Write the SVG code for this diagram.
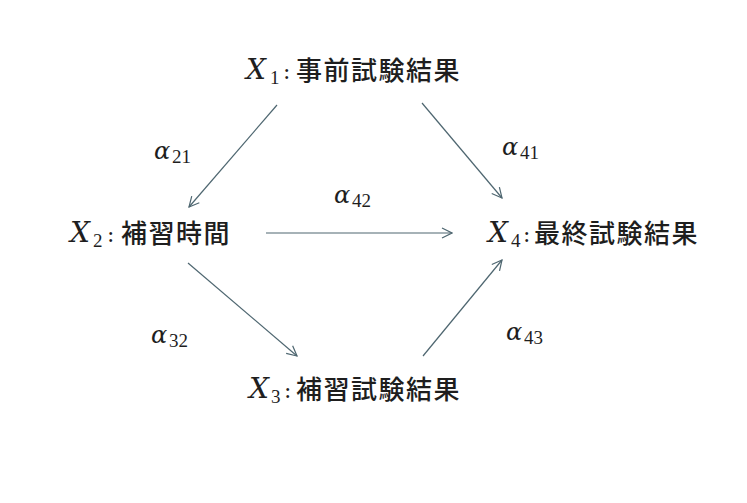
<svg xmlns="http://www.w3.org/2000/svg" width="747" height="503" viewBox="0 0 747 503">
<defs>
<style>
.math{font-family:"DejaVu Serif",serif;font-style:italic;fill:#1e1e1e}
.sub{font-family:"Liberation Serif",serif;font-style:normal;fill:#1e1e1e}
.col{font-family:"DejaVu Serif",serif;font-style:normal;fill:#1e1e1e}
.cjk{font-family:"Noto Sans CJK JP",sans-serif;font-weight:500;fill:#1e1e1e;letter-spacing:1.5px}
.edge{stroke:#4e6670;stroke-width:1.2;fill:none;marker-end:url(#ah)}
</style>
<marker id="ah" viewBox="0 0 12 12" refX="11" refY="6" markerWidth="12" markerHeight="12" markerUnits="userSpaceOnUse" orient="auto">
<path d="M1,1 L11,6 L1,11" fill="none" stroke="#4e6670" stroke-width="1.2"/>
</marker>
</defs>
<rect width="747" height="503" fill="#ffffff"/>
<g id="connectors">
<line class="edge" x1="277" y1="105" x2="189" y2="207"/>
<line class="edge" x1="422" y1="103" x2="502" y2="198"/>
<line class="edge" x1="266" y1="233" x2="452" y2="233"/>
<line class="edge" x1="188" y1="263" x2="297" y2="356"/>
<line class="edge" x1="423" y1="356" x2="502" y2="260"/>
</g>
<g id="X1">
<text x="246" y="79" class="math" font-size="28">X</text>
<text x="270" y="84" class="sub" font-size="19">1</text>
<text x="283" y="79" class="col" font-size="22">:</text>
<text x="296" y="80" class="cjk" font-size="26">事前試験結果</text>
</g>
<g id="X2">
<text x="70" y="242" class="math" font-size="28">X</text>
<text x="93" y="247" class="sub" font-size="19">2</text>
<text x="107" y="242" class="col" font-size="22">:</text>
<text x="121" y="243" class="cjk" font-size="26">補習時間</text>
</g>
<g id="X4">
<text x="488" y="242" class="math" font-size="28">X</text>
<text x="511" y="247" class="sub" font-size="19">4</text>
<text x="523" y="242" class="col" font-size="22">:</text>
<text x="534" y="243" class="cjk" font-size="26">最終試験結果</text>
</g>
<g id="X3">
<text x="249" y="398" class="math" font-size="28">X</text>
<text x="271" y="403" class="sub" font-size="19">3</text>
<text x="284" y="398" class="col" font-size="22">:</text>
<text x="296" y="399" class="cjk" font-size="26">補習試験結果</text>
</g>
<g id="labels">
<text x="154" y="159" class="math" font-size="24">α</text>
<text x="172" y="163" class="sub" font-size="19">21</text>
<text x="502" y="155" class="math" font-size="24">α</text>
<text x="520" y="159" class="sub" font-size="19">41</text>
<text x="334" y="203" class="math" font-size="24">α</text>
<text x="352" y="207" class="sub" font-size="19">42</text>
<text x="151" y="343" class="math" font-size="24">α</text>
<text x="169" y="347" class="sub" font-size="19">32</text>
<text x="506" y="340" class="math" font-size="24">α</text>
<text x="524" y="344" class="sub" font-size="19">43</text>
</g>
</svg>
